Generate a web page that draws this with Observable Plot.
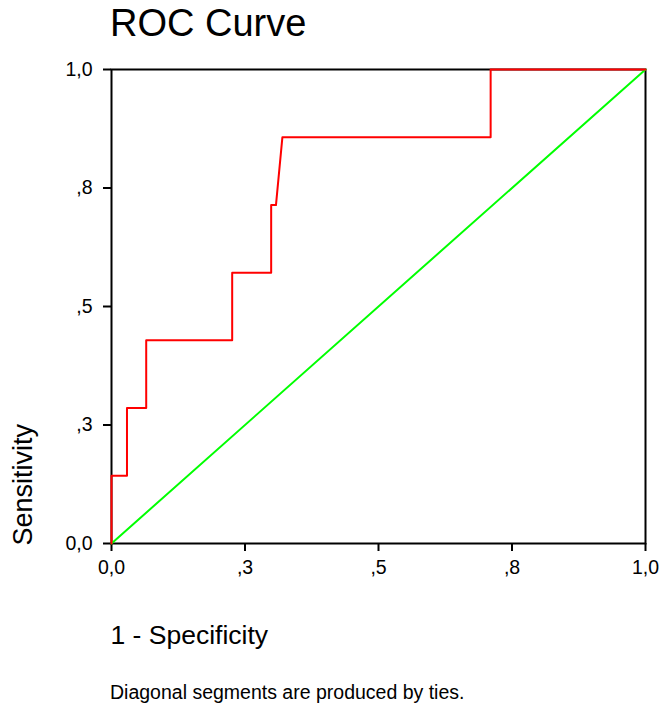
<!DOCTYPE html>
<html>
<head>
<meta charset="utf-8">
<script src="https://cdn.jsdelivr.net/npm/d3@7"></script>
<script src="https://cdn.jsdelivr.net/npm/@observablehq/plot@0.6"></script>
<style>
  html, body { margin: 0; padding: 0; background: #fff; }
  body { width: 661px; height: 706px; position: relative; overflow: hidden; font-family: "Liberation Sans", Arial, sans-serif; color: #000; }
  #title { position: absolute; left: 110px; top: 4px; font-size: 38px; line-height: 38px; white-space: nowrap; }
  #chart { position: absolute; left: 0; top: 50px; }
  #caption { position: absolute; left: 110px; top: 683px; font-size: 19.5px; line-height: 19px; white-space: nowrap; }
</style>
</head>
<body>
<div id="title">ROC Curve</div>
<div id="chart"></div>
<div id="caption">Diagonal segments are produced by ties.</div>
<script>
// ROC curve points (1 - Specificity, Sensitivity)
const fpr = [0, 0, 0.029, 0.029, 0.065, 0.065, 0.226, 0.226, 0.299, 0.299, 0.308, 0.320, 0.710, 0.710, 1];
const tpr = [0, 0.143, 0.143, 0.286, 0.286, 0.429, 0.429, 0.571, 0.571, 0.714, 0.714, 0.857, 0.857, 1, 1];
// Reference line
const refX = [0, 1];
const refY = [0, 1];
// Tick positions and labels
const tickValues = [0, 0.25, 0.5, 0.75, 1];
const tickLabels = ["0,0", ",3", ",5", ",8", "1,0"];
const xLabel = "1 - Specificity";
const yLabel = "Sensitivity";

const roc = fpr.map((x, i) => ({x, y: tpr[i]}));
const diag = refX.map((x, i) => ({x, y: refY[i]}));
const fmt = v => tickLabels[tickValues.indexOf(v)] ?? "";

const chart = Plot.plot({
  width: 661,
  height: 610,
  marginLeft: 111,
  marginRight: 16,
  marginTop: 19,
  marginBottom: 117,
  style: {fontFamily: "Liberation Sans, Arial, sans-serif", fontSize: "19px", color: "#000", background: "#fff"},
  x: {domain: [0, 1]},
  y: {domain: [0, 1]},
  marks: [
    Plot.frame({stroke: "#000", strokeWidth: 2}),
    Plot.axisX({ticks: tickValues, tickFormat: fmt, tickSize: 8, tickPadding: 9, strokeWidth: 2, fontSize: 19.5, label: null}),
    Plot.axisY({ticks: tickValues, tickFormat: fmt, tickSize: 8, tickPadding: 11, strokeWidth: 2, fontSize: 19.5, label: null}),
    Plot.line(diag, {x: "x", y: "y", stroke: "#00ff00", strokeWidth: 2}),
    Plot.line(roc, {x: "x", y: "y", stroke: "#ff0000", strokeWidth: 2}),
    Plot.text([xLabel], {frameAnchor: "bottom-left", textAnchor: "start", lineAnchor: "bottom", dx: -1, dy: 100, fontSize: 26.5, fill: "#000"}),
    Plot.text([yLabel], {frameAnchor: "bottom-left", textAnchor: "start", lineAnchor: "bottom", rotate: -90, dx: -80, dy: 2, fontSize: 27, fill: "#000"})
  ]
});
document.getElementById("chart").appendChild(chart);
</script>
</body>
</html>
